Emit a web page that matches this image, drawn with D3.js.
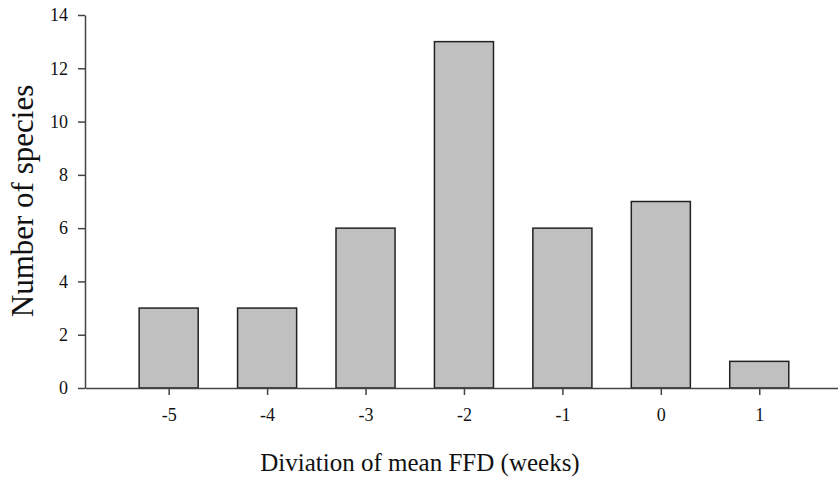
<!DOCTYPE html>
<html>
<head>
<meta charset="utf-8">
<script src="https://cdn.jsdelivr.net/npm/d3@7"></script>
<style>
  body { margin: 0; background: #fff; }
  svg { display: block; }
  .axis path, .axis line { stroke: #444; stroke-width: 1.5; }
</style>
</head>
<body>
<svg id="chart"></svg>
<script>
// data
var weeks = [-5, -4, -3, -2, -1, 0, 1];
var species = [3, 3, 6, 13, 6, 7, 1];
var yTicks = [0, 2, 4, 6, 8, 10, 12, 14];

var config = { width: 838, height: 481, barWidth: 0.6 };
var serif = '"Liberation Serif", "Times New Roman", serif';

var svg = d3.select('#chart')
  .attr('width', config.width)
  .attr('height', config.height);

// scales (axis spans a bit past the last bar on the right)
var x = d3.scaleLinear().domain([-5.85, 1.8]).range([85, 838]);
var y = d3.scaleLinear().domain([0, 14]).range([388, 15]);

// bars
svg.selectAll('rect.bar')
  .data(weeks)
  .enter()
  .append('rect')
  .attr('class', 'bar')
  .attr('x', function(d) { return x(d - config.barWidth / 2); })
  .attr('width', function(d) { return x(d + config.barWidth / 2) - x(d - config.barWidth / 2); })
  .attr('y', function(d, i) { return y(species[i]); })
  .attr('height', function(d, i) { return y(0) - y(species[i]); })
  .attr('fill', '#c0c0c0')
  .attr('stroke', '#222')
  .attr('stroke-width', 1.5);

// plain hyphen for negatives, like the original
var fmt = function(d) { return String(d); };

// x axis
var gx = svg.append('g')
  .attr('class', 'axis')
  .attr('transform', 'translate(0,' + y(0) + ')')
  .call(d3.axisBottom(x).tickValues(weeks).tickFormat(fmt).tickSize(7).tickSizeOuter(0).tickPadding(11));
gx.selectAll('text').attr('dy', '0.85em');

// y axis
var gy = svg.append('g')
  .attr('class', 'axis')
  .attr('transform', 'translate(' + x.range()[0] + ',0)')
  .call(d3.axisLeft(y).tickValues(yTicks).tickFormat(fmt).tickSize(7).tickSizeOuter(0).tickPadding(10));

svg.selectAll('.axis text')
  .style('font-family', serif)
  .style('font-size', '18px')
  .style('fill', '#111');

// axis titles
svg.append('text')
  .attr('x', 420)
  .attr('y', 471)
  .attr('text-anchor', 'middle')
  .style('font-family', serif)
  .style('font-size', '25px')
  .style('fill', '#111')
  .text('Diviation of mean FFD (weeks)');

svg.append('text')
  .attr('transform', 'translate(33,201) rotate(-90)')
  .attr('text-anchor', 'middle')
  .style('font-family', serif)
  .style('font-size', '31px')
  .style('fill', '#111')
  .text('Number of species');
</script>
</body>
</html>
